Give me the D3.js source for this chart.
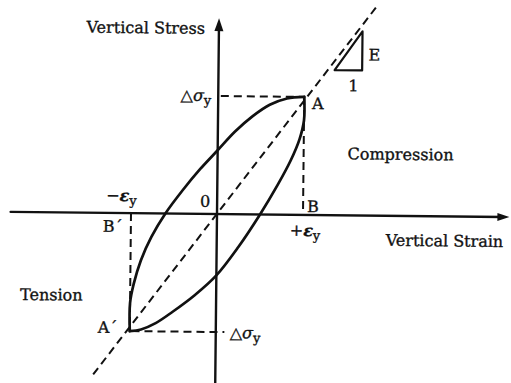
<!DOCTYPE html>
<html>
<head>
<meta charset="utf-8">
<script src="https://cdn.jsdelivr.net/npm/d3@7"></script>
<style>
    body { margin: 0; background: #fff; }
    svg text { font-family: "DejaVu Serif", serif; fill: #111; stroke: #111; stroke-width: 0.35; }
    .axis, .loop, .slope { fill: none; stroke: #111; stroke-linecap: round; stroke-linejoin: round; }
    .axis { stroke-width: 2.4; }
    .loop { stroke-width: 2.7; }
    .slope { stroke-width: 2.2; }
    .guide { fill: none; stroke: #111; stroke-width: 2; stroke-dasharray: 8,5; }
</style>
</head>
<body>
<svg class="graph" width="511" height="383"></svg>
<script>
// strain in units of eps_y, stress in units of delta sigma_y
var strainAxis = [-2.4, 3.4];
var stressAxis = [-1.43, 1.66];

// branch from A' up to A
var upperBranch = [
    [-1.0, -1.0], [-1.0, -0.76], [-0.96, -0.6], [-0.88, -0.4],
    [-0.76, -0.2], [-0.6, 0.0], [-0.4, 0.2], [-0.2, 0.38],
    [0.0, 0.54], [0.2, 0.7], [0.4, 0.83], [0.6, 0.93],
    [0.8, 0.985], [1.0, 1.0]
];
// branch from A down to A'
var lowerBranch = [
    [1.0, 1.0], [1.0, 0.8], [0.95, 0.64], [0.85, 0.46],
    [0.7, 0.25], [0.5, 0.0], [0.25, -0.28], [0.0, -0.52],
    [-0.25, -0.69], [-0.5, -0.83], [-0.7, -0.93], [-0.87, -0.985],
    [-1.0, -1.0]
];
var elasticLine = [[-1.42, -1.37], [1.84, 1.78]];
var guides = [
    [[0.03, 1.0], [1.0, 1.0]],
    [[1.0, 1.0], [1.0, 0.0]],
    [[-1.0, 0.0], [-1.0, -1.0]],
    [[-0.98, -1.0], [0.1, -1.0]]
];
var slopeTriangle = [[1.35, 1.23], [1.67, 1.23], [1.67, 1.56]];

var svg = d3.select("svg.graph");
var xScale = d3.scaleLinear().domain([-1, 1]).range([131, 303]);
var yScale = d3.scaleLinear().domain([-1, 1]).range([332, 96]);
var ox = xScale(0), oy = yScale(0);

// the scan is turned a little clockwise
var g = svg.append("g")
    .attr("transform", "rotate(0.6," + ox + "," + oy + ")");

var line = d3.line()
    .x(function (d) { return xScale(d[0]); })
    .y(function (d) { return yScale(d[1]); });

// axes with arrow heads
var xEnd = xScale(strainAxis[1]);
var yEnd = yScale(stressAxis[1]);
g.append("path").classed("axis", true)
    .attr("d", line([[strainAxis[0], 0], [strainAxis[1] - 0.08, 0]]));
g.append("path").classed("axis", true)
    .attr("d", line([[0, stressAxis[0]], [0, stressAxis[1] - 0.08]]));
g.append("path")
    .attr("fill", "#111")
    .attr("d", "M" + xEnd + "," + oy + "L" + (xEnd - 12) + "," + (oy - 4) + "L" + (xEnd - 12) + "," + (oy + 4) + "Z");
g.append("path")
    .attr("fill", "#111")
    .attr("d", "M" + ox + "," + yEnd + "L" + (ox - 4.5) + "," + (yEnd + 13) + "L" + (ox + 4.5) + "," + (yEnd + 13) + "Z");

// dashed lines
g.append("path").classed("guide", true).attr("d", line(elasticLine));
g.selectAll("path.dash")
    .data(guides)
    .enter()
    .append("path")
    .classed("guide", true)
    .attr("d", function (d) { return line(d); });

// hysteresis loop
var curve = d3.line()
    .x(function (d) { return xScale(d[0]); })
    .y(function (d) { return yScale(d[1]); })
    .curve(d3.curveCatmullRom.alpha(0.5));
g.append("path").classed("loop", true).attr("d", curve(upperBranch));
g.append("path").classed("loop", true).attr("d", curve(lowerBranch));

// slope triangle
g.append("path").classed("slope", true).attr("d", line(slopeTriangle) + "Z");

function label(x, y, anchor, size, parts) {
    var t = g.append("text")
        .attr("x", x)
        .attr("y", y)
        .attr("text-anchor", anchor)
        .attr("font-size", size);
    parts.forEach(function (p) {
        var s = t.append("tspan").text(p.t);
        if (p.i) s.attr("font-style", "italic");
        if (p.b) s.attr("font-weight", "bold");
        if (p.sub) s.attr("dy", 4).attr("font-size", size - 3);
    });
    return t;
}

var fs = 16;
label(ox - 14, 34, "end", fs, [{ t: "Vertical Stress" }]);
label(ox - 7, yScale(1) + 5, "end", fs, [{ t: "\u25B3" }, { t: "\u03C3", i: true }, { t: "y", sub: true }]);
label(xScale(1) + 8, yScale(1) + 12, "start", fs, [{ t: "A" }]);
label(367, 59, "start", fs, [{ t: "E" }]);
label(347, 90, "start", fs, [{ t: "1" }]);
label(347, 158, "start", fs, [{ t: "Compression" }]);
label(ox - 17, oy - 7, "start", fs, [{ t: "0" }]);
label(xScale(1) + 4, oy - 3, "start", fs, [{ t: "B" }]);
label(xScale(1) - 13, oy + 21, "start", fs, [{ t: "+" }, { t: "\u03B5", i: true, b: true }, { t: "y", sub: true }]);
label(386, oy + 30, "start", fs, [{ t: "Vertical Strain" }]);
label(xScale(-1) - 25, oy - 12, "start", fs, [{ t: "\u2212" }, { t: "\u03B5", i: true, b: true }, { t: "y", sub: true }]);
label(xScale(-1) - 28, oy + 19, "start", fs, [{ t: "B\u00B4" }]);
label(21, 302, "start", fs, [{ t: "Tension" }]);
label(xScale(-1) - 32, yScale(-1) + 2, "start", fs, [{ t: "A\u00B4" }]);
label(ox + 14, yScale(-1) + 6, "start", fs, [{ t: "\u25B3" }, { t: "\u03C3", i: true }, { t: "y", sub: true }]);
</script>
</body>
</html>
